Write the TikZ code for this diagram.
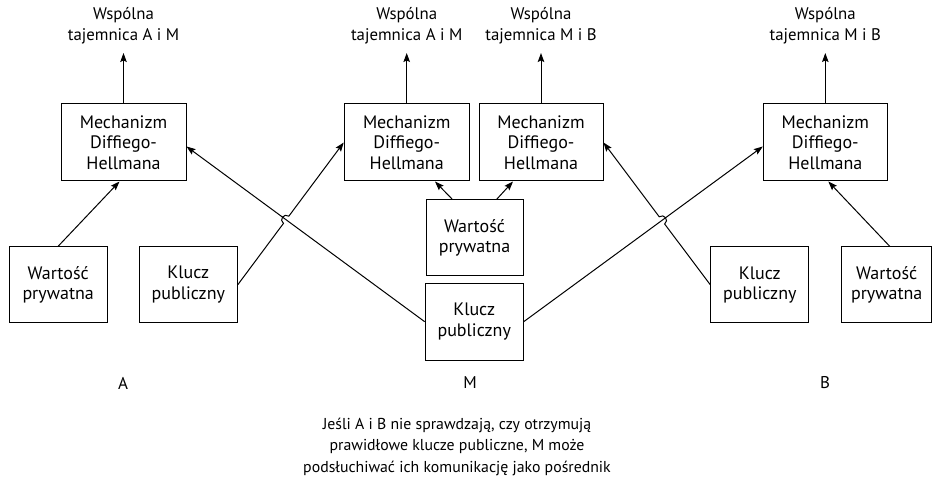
\documentclass[tikz,border=0pt]{standalone}
\usepackage{fontspec}
\setmainfont{PT Sans}
\usetikzlibrary{arrows.meta,calc,intersections}
\begin{document}
\begin{tikzpicture}[x=1pt,y=-1pt,
  box/.style={draw, line width=1pt, align=center, inner sep=0pt, font=\fontsize{18}{20.5}\selectfont},
  dhbox/.style={box, minimum width=125pt, minimum height=77pt},
  smallbox/.style={box, minimum width=98pt, minimum height=76pt},
  lbl/.style={align=center, font=\fontsize{16.8}{21}\selectfont, inner xsep=0pt, inner ysep=9pt, anchor=south},
  party/.style={font=\fontsize{17}{21}\selectfont, inner sep=0pt},
  note/.style={align=center, font=\fontsize{15.8}{21.5}\selectfont, inner sep=0pt},
  conn/.style={line width=1pt, -{Stealth[length=9pt,width=6.5pt,inset=1.5pt]}}]
\useasboundingbox (0,0) rectangle (934,478);

% Diffie-Hellman boxes
\node[dhbox] (dha)  at (123.5,142.5) {Mechanizm\\Diffiego-\\Hellmana};
\node[dhbox] (dhm1) at (406.7,142.5) {Mechanizm\\Diffiego-\\Hellmana};
\node[dhbox, minimum width=124pt] (dhm2) at (541,142.5) {Mechanizm\\Diffiego-\\Hellmana};
\node[dhbox, minimum width=124pt] (dhb)  at (825.3,142.5) {Mechanizm\\Diffiego-\\Hellmana};

% shared secret labels
\node[lbl] (sa)  at (123.5,53) {Wspólna\\tajemnica A i M};
\node[lbl] (sm1) at (406.7,53) {Wspólna\\tajemnica A i M};
\node[lbl] (sm2) at (541,53) {Wspólna\\tajemnica M i B};
\node[lbl] (sb)  at (825.3,53) {Wspólna\\tajemnica M i B};

% value / key boxes
\node[smallbox] (wa) at (58.2,284.7) {Wartość\\prywatna};
\node[smallbox] (ka) at (188.3,284.7) {Klucz\\publiczny};
\node[smallbox, minimum width=97pt] (wm) at (474.5,238) {Wartość\\prywatna};
\node[smallbox, minimum width=98pt, minimum height=77pt] (km) at (474.2,321.7) {Klucz\\publiczny};
\node[smallbox] (kb) at (759.8,284.8) {Klucz\\publiczny};
\node[smallbox, minimum width=90pt] (wb) at (886.7,284.8) {Wartość\\prywatna};

% party labels
\node[party] (pa) at (123,383) {A};
\node[party] (pm) at (470,383) {M};
\node[party] (pb) at (825,383) {B};

% note
\node[note] (nt) at (457,446.5) {Jeśli A i B nie sprawdzają, czy otrzymują\\prawidłowe klucze publiczne, M może\\podsłuchiwać ich komunikację jako pośrednik};

% arrows up to secrets
\draw[conn] (dha.north) -- (sa.south);
\draw[conn] (dhm1.north) -- (sm1.south);
\draw[conn] (dhm2.north) -- (sm2.south);
\draw[conn] (dhb.north) -- (sb.south);

% private values
\draw[conn] (wa.north) -- ([xshift=-4pt]dha.south);
\draw[conn] ([xshift=3pt]wb.north) -- ([xshift=3pt]dhb.south);
\draw[conn] ([xshift=-22pt]wm.north) -- ([xshift=28.3pt]dhm1.south);
\draw[conn] ([xshift=22pt]wm.north) -- ([xshift=-28pt]dhm2.south);

% crossing public keys
\path[name path=la] (ka.east) -- (dhm1.west);
\path[name path=lma] (km.west) -- ([yshift=-4pt]dha.east);
\path[name intersections={of=la and lma, by=xa}];
\path[name path=lb] (kb.west) -- (dhm2.east);
\path[name path=lmb] (km.east) -- ([yshift=-4pt]dhb.west);
\path[name intersections={of=lb and lmb, by=xb}];

\draw[conn] (km.west) -- ([yshift=-4pt]dha.east);
\draw[conn] (km.east) -- ([yshift=-4pt]dhb.west);
\draw[conn] (ka.east) -- ($(xa)!4.5pt!(ka.east)$) to[bend left=90, looseness=1.7] ($(xa)!4.5pt!(dhm1.west)$) -- (dhm1.west);
\draw[conn] (kb.west) -- ($(xb)!4.5pt!(kb.west)$) to[bend right=90, looseness=1.7] ($(xb)!4.5pt!(dhm2.east)$) -- (dhm2.east);
\end{tikzpicture}
\end{document}
